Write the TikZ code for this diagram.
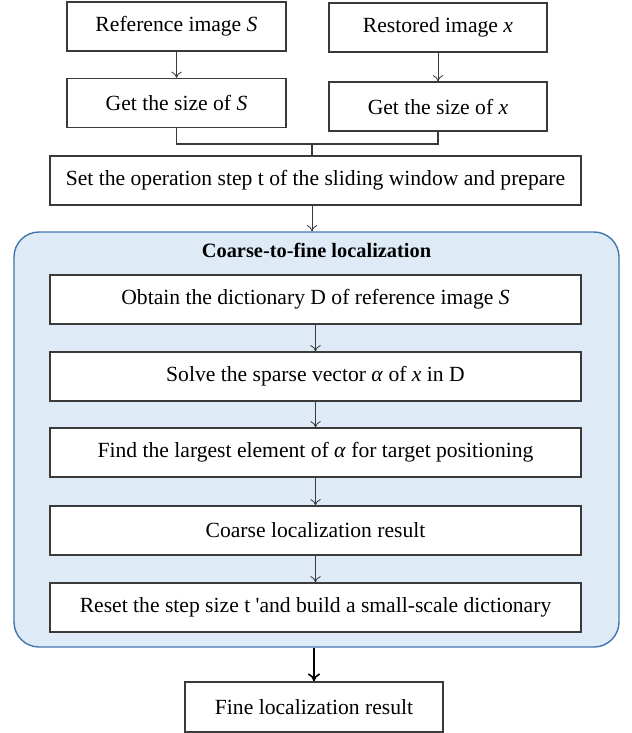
\documentclass[tikz,border=0pt]{standalone}
\usepackage{fontspec}
\setmainfont{Liberation Serif}
\usepackage{xcolor}
\usetikzlibrary{arrows.meta}
\definecolor{panelfill}{HTML}{DEEBF7}
\definecolor{paneledge}{HTML}{4177AE}
\definecolor{boxedge}{HTML}{3A3A3A}

\begin{document}
\begin{tikzpicture}
[
    stepbox/.style = {draw = boxedge, fill = white, line width = 0.8pt, inner sep = 0pt, minimum height = 0.98cm, font = \fontsize{12.3}{14}\selectfont},
    widebox/.style = {stepbox, minimum width = 10.62cm},
    flow/.style = {-{To[length = 3.5pt, width = 6pt]}, draw = boxedge, line width = 0.45pt}
]
\useasboundingbox (0,0) rectangle (12.64,-14.66);

\node[stepbox, minimum width = 4.38cm] (ref) at (3.53,-0.53) {Reference image \textit{S}};
\node[stepbox, minimum width = 4.36cm] (rest) at (8.76,-0.55) {Restored image \textit{x}};
\node[stepbox, minimum width = 4.38cm] (sizeS) at (3.53,-2.06) {Get the size of \textit{S}};
\node[stepbox, minimum width = 4.36cm] (sizex) at (8.76,-2.13) {Get the size of \textit{x}};
\node[widebox] (set) at (6.31,-3.61) {Set the operation step t of the sliding window and prepare};

\node[draw = paneledge, fill = panelfill, line width = 0.8pt, rounded corners = 0.5cm, minimum width = 12.1cm, minimum height = 8.3cm] (loc) at (6.33,-8.79) {};
\node[font = \fontsize{11.6}{14}\selectfont\bfseries] (title) at (6.33,-5.0) {Coarse-to-fine localization};
\node[widebox] (obtain) at (6.31,-5.99) {Obtain the dictionary D of reference image \textit{S}};
\node[widebox] (solve) at (6.31,-7.53) {Solve the sparse vector \textit{α} of \textit{x} in D};
\node[widebox] (find) at (6.31,-9.05) {Find the largest element of \textit{α} for target positioning};
\node[widebox] (coarse) at (6.31,-10.61) {Coarse localization result};
\node[widebox] (reset) at (6.31,-12.15) {Reset the step size t \textquotesingle and build a small-scale dictionary};

\node[stepbox, minimum width = 5.16cm, minimum height = 1.0cm] (fine) at (6.28,-14.14) {Fine localization result};

\coordinate (join) at (6.24,-2.88);
\draw[flow] (ref) -- (sizeS);
\draw[flow] (rest) -- (sizex);
\draw[draw = boxedge, line width = 0.8pt] (sizeS.south) |- (join) -| (sizex.south);
\draw[draw = boxedge, line width = 1.2pt] (join) -- (join |- set.north);
\draw[flow] (set.south -| join) -- (join |- loc.north);
\draw[flow] (obtain) -- (solve);
\draw[flow] (solve) -- (find);
\draw[flow] (find) -- (coarse);
\draw[flow] (coarse) -- (reset);
\draw[-{To[length = 4.5pt, width = 7pt]}, line width = 0.9pt] (loc.south -| fine.north) -- (fine.north);
\end{tikzpicture}
\end{document}
